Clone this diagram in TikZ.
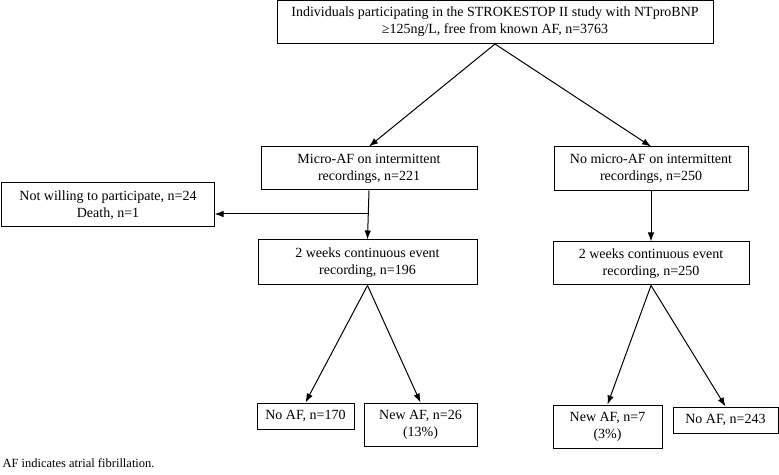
\documentclass[tikz,border=0pt]{standalone}
\usepackage{fontspec}
\setmainfont{Liberation Serif}
\usetikzlibrary{
    arrows.meta,
    positioning
}

\begin{document}
\begin{tikzpicture}[x=1bp, y=-1bp, line width=1bp,
                    >={Latex[length=9bp,width=6.5bp]},
                    box/.style={draw, align=center, inner sep=0pt,
                                font=\fontsize{14bp}{17bp}\selectfont}]
                                \useasboundingbox (0,0) rectangle (779,475);
                                % top of the chart
                                \node[box, minimum width=436bp, minimum height=43bp] (all) at (495,22)
                                    {Individuals participating in the STROKESTOP II study with NTproBNP\\≥125ng/L, free from known AF, n=3763};
                                % intermittent recordings
                                \node[box, minimum width=216bp, minimum height=43bp] (micro) at (369,168.5)
                                    {Micro-AF on intermittent\\recordings, n=221};
                                \node[box, minimum width=194bp, minimum height=44bp] (nomicro) at (651,169)
                                    {No micro-AF on intermittent\\recordings, n=250};
                                \node[box, minimum width=212bp, minimum height=44bp] (dropout) at (108,205)
                                    {Not willing to participate, n=24\\Death, n=1};
                                % continuous event recording
                                \node[box, minimum width=219bp, minimum height=45bp] (weeksL) at (367.5,262.5)
                                    {2 weeks continuous event\\recording, n=196};
                                \node[box, minimum width=196bp, minimum height=43bp] (weeksR) at (651,263.5)
                                    {2 weeks continuous event\\recording, n=250};
                                % outcomes
                                \node[box, minimum width=97bp, minimum height=26bp] (noafL) at (305.5,416)
                                    {No AF, n=170};
                                \node[box, minimum width=113bp, minimum height=43bp] (newafL) at (420.5,424.5)
                                    {New AF, n=26\\(13\%)};
                                \node[box, minimum width=109bp, minimum height=43bp] (newafR) at (607.5,426.5)
                                    {New AF, n=7\\(3\%)};
                                \node[box, minimum width=105bp, minimum height=26bp] (noafR) at (725.5,420)
                                    {No AF, n=243};
                                \node[anchor=west, inner sep=0pt, font=\fontsize{12.5bp}{15bp}\selectfont] (note) at (2,463)
                                    {AF indicates atrial fibrillation.};
                                \coordinate (split) at (367.5,214);
                                \draw
                                (all.south) edge[->] (micro.north)
                                (all.south) edge[->] (nomicro.north)
                                (micro.south) edge[->] (weeksL.north)
                                (split) edge[->] (split -| dropout.east)
                                (nomicro.south) edge[->] (weeksR.north)
                                (weeksL.south) edge[->] (noafL.north)
                                (weeksL.south) edge[->] (newafL.north)
                                (weeksR.south) edge[->] (newafR.north)
                                (weeksR.south) edge[->] (noafR.north);
                            \end{tikzpicture}
\end{document}
